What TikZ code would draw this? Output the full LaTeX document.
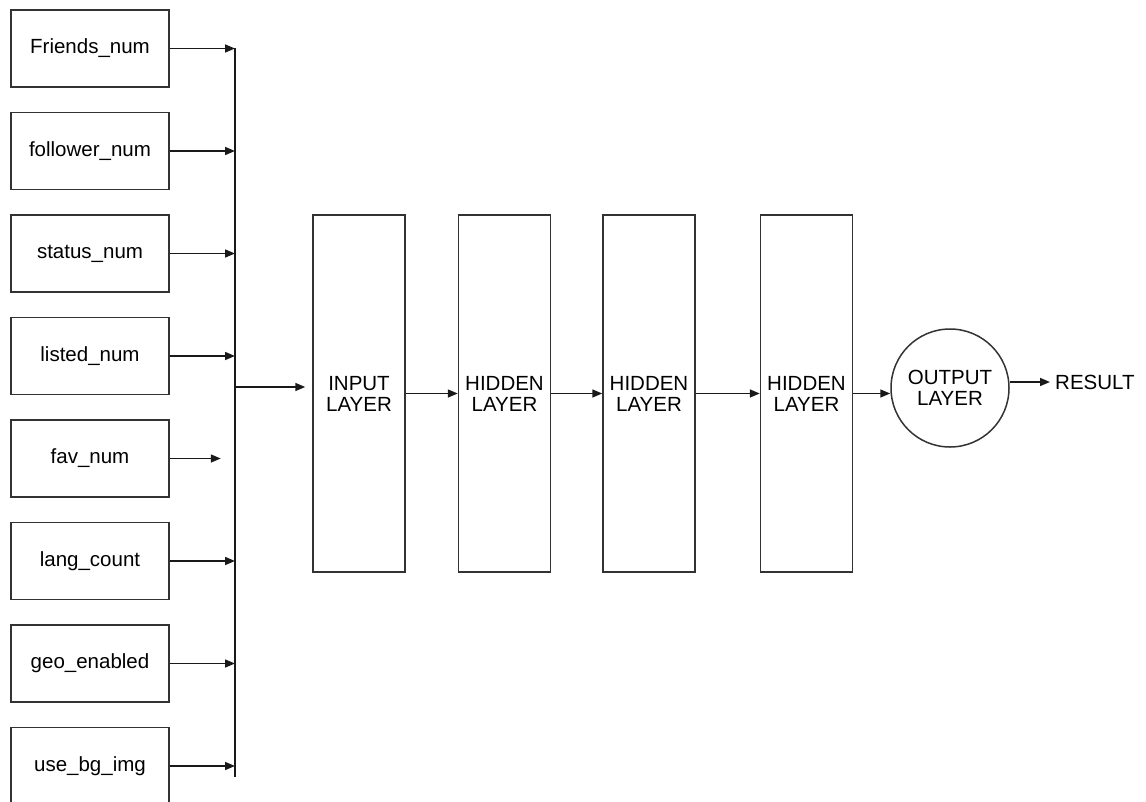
\documentclass[tikz,border=0pt]{standalone}
\usepackage{fontspec}
\setmainfont{Liberation Sans}
\usetikzlibrary{arrows.meta, positioning, calc}

\begin{document}
\begin{tikzpicture}[
    x=1pt, y=1pt,
    node distance=24pt,
    feat/.style={rectangle, draw=black!80, line width=1.5pt, minimum width=158pt, minimum height=77pt, inner sep=0pt, font=\fontsize{20.5}{24}\selectfont},
    layer/.style={rectangle, draw=black!80, line width=1.5pt, minimum width=92pt, minimum height=357pt, align=center, inner sep=0pt, font=\fontsize{20.5}{21}\selectfont},
    arrow/.style={-{Triangle[length=10pt, width=8pt]}, line width=1.5pt, black!90}
]
\useasboundingbox (0,0) rectangle (1146,-801);
% Feature boxes
\node[feat] (friends) at (90,-48.5) {Friends\_num};
\node[feat, below=of friends] (follower) {follower\_num};
\node[feat, below=of follower] (status) {status\_num};
\node[feat, below=of status] (listed) {listed\_num};
\node[feat, below=of listed] (fav) {fav\_num};
\node[feat, below=of fav] (lang) {lang\_count};
\node[feat, below=of lang] (geo) {geo\_enabled};
\node[feat, below=of geo] (usebg) {use\_bg\_img};

% Bus line
\coordinate (bustop) at (235,-48);
\coordinate (busbot) at (235,-777);
\coordinate (busout) at (235,-387);
\draw[line width=1.5pt, black!90] (bustop) -- (busbot);

% Feature arrows
\foreach \f in {friends,follower,status,listed,lang,geo,usebg}
    \draw[arrow] (\f.east) -- (\f.east -| bustop);
\draw[arrow] (fav.east) -- ++(51,0);

% Layers
\node[layer] (input) at (359,-393.5) {INPUT\\LAYER};
\node[layer, right=52pt of input] (hidden1) {HIDDEN\\LAYER};
\node[layer, right=51pt of hidden1] (hidden2) {HIDDEN\\LAYER};
\node[layer, right=64pt of hidden2] (hidden3) {HIDDEN\\LAYER};
\node[circle, draw=black!80, line width=1.5pt, minimum size=118pt, inner sep=0pt, align=center, font=\fontsize{20.5}{21}\selectfont] (output) at (950,-388) {OUTPUT\\LAYER};
\node[anchor=west, inner sep=3pt, font=\fontsize{20.5}{24}\selectfont] (result) at (1052,-382) {RESULT};

% Arrows
\draw[arrow, shorten >=7pt] (busout) -- (input.west |- busout);
\draw[arrow] (input) -- (hidden1);
\draw[arrow] (hidden1) -- (hidden2);
\draw[arrow] (hidden2) -- (hidden3);
\draw[arrow] (hidden3.east) -- (hidden3.east -| output.west);
\draw[arrow, shorten >=2pt] (output.east |- result.west) -- (result.west);
\end{tikzpicture}
\end{document}
